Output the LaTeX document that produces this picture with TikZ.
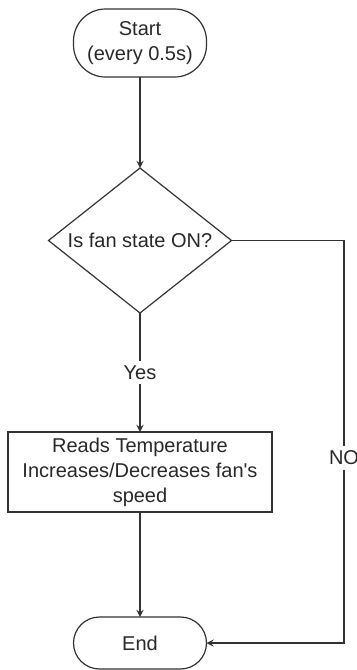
\documentclass[tikz,border=0pt]{standalone}
\usepackage{fontspec}
\setmainfont{Liberation Sans}
\usepackage{xcolor}
\usepackage{tikz}
\usetikzlibrary{shapes.geometric, arrows, positioning, calc}
\definecolor{linegray}{RGB}{51, 51, 51}
\definecolor{darktext}{RGB}{40, 40, 40}

\begin{document}
\begin{tikzpicture}[
    node distance=0.5cm,
    every node/.style={font=\fontsize{10}{12.5}\selectfont, text=darktext},
    terminal/.style={rectangle, draw=linegray, line width=0.6pt, minimum width=66.5pt,
                align=center, inner sep=0pt, outer sep=0pt},
    decision/.style={diamond, draw=linegray, line width=0.6pt, minimum width=91.5pt,
                minimum height=72.5pt, shape aspect=1.26, inner sep=0pt, outer sep=0pt},
    process/.style={rectangle, draw=linegray, line width=0.6pt, minimum width=132pt,
                minimum height=40pt, align=center, inner sep=0pt, outer sep=0pt},
    arrow/.style={->, >=stealth, line width=0.6pt, linegray}
]
\useasboundingbox (0,0) rectangle (178.5pt,-335pt);

% Flow
\node[terminal, minimum height=34pt, rounded corners=16pt] (start) at (70pt,-21.5pt) {Start\\(every 0.5s)};
\node[decision, below=45.5pt of start] (fanon) {Is fan state ON?};
\node[process, below=59.5pt of fanon] (reads) {Reads Temperature\\Increases/Decreases fan\textquotesingle s\\speed};
\node[terminal, minimum height=26pt, rounded corners=13pt, below=52.5pt of reads] (end) {End};
\coordinate (nocol) at (172pt,0);

% Arrows
\draw[arrow] (start) -- (fanon);
\draw[arrow] (fanon) -- node[fill=white, inner sep=2.5pt] {Yes} (reads);
\draw[arrow] (reads) -- (end);

% No branch
\draw[arrow] (fanon.east) -- (fanon.east -| nocol) |- node[pos=0.27, fill=white, inner sep=2.5pt] {NO} (end.east);

\end{tikzpicture}
\end{document}
